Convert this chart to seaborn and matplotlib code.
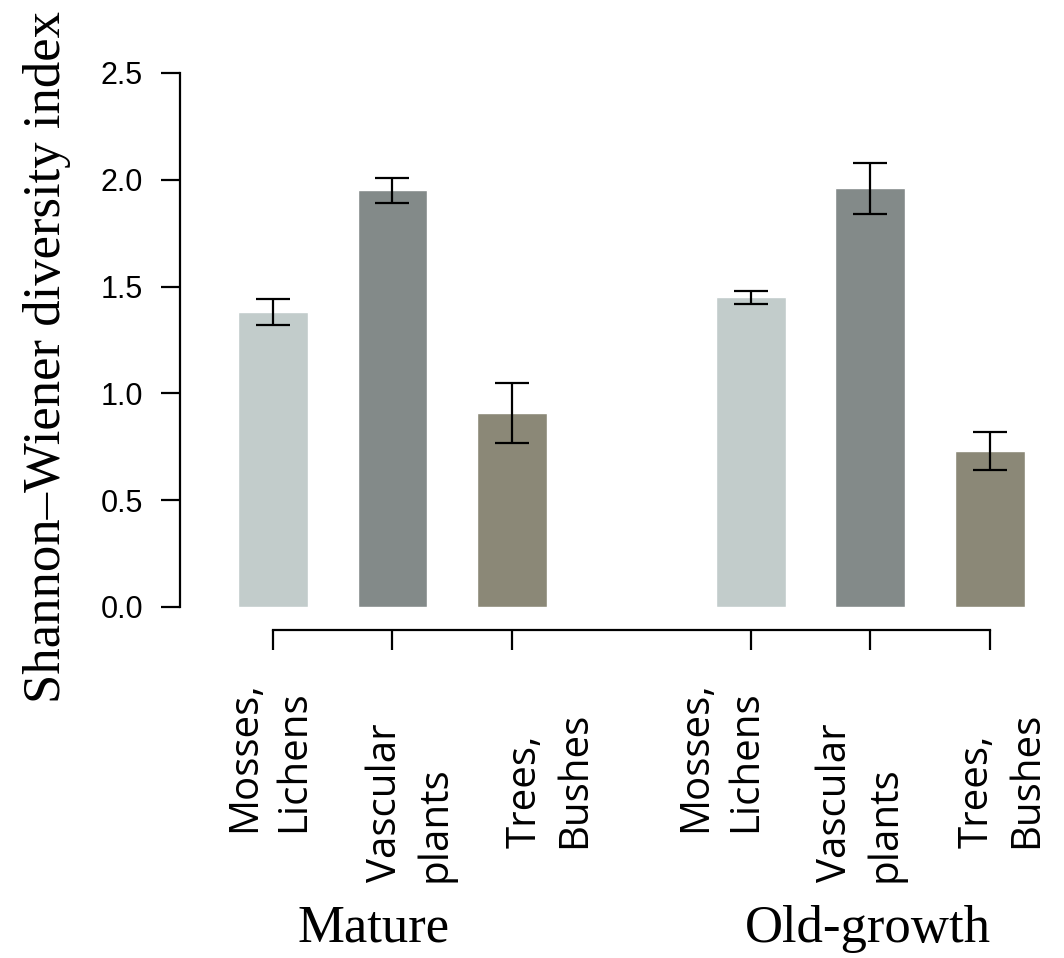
import numpy as np
import pandas as pd
import matplotlib
matplotlib.use("Agg")
import matplotlib.pyplot as plt
import matplotlib.transforms as mtransforms
import seaborn as sns

# Shannon-Wiener index per stand type and plant group
stands = ["Mature", "Mature", "Mature", "Old-growth", "Old-growth", "Old-growth"]
groups = ["Mosses,\nLichens", "Vascular\nplants", "Trees,\nBushes"] * 2
positions = [0, 1, 2, 4, 5, 6]
shannon = [1.38, 1.95, 0.91, 1.45, 1.96, 0.73]
errors = [0.06, 0.06, 0.14, 0.03, 0.12, 0.09]
yticks = [0.0, 0.5, 1.0, 1.5, 2.0, 2.5]
stand_labels = ["Mature", "Old-growth"]

palette = {"Mosses,\nLichens": "#c2cccb", "Vascular\nplants": "#838a89", "Trees,\nBushes": "#8b8877"}

df = pd.DataFrame({"stand": stands, "group": groups, "position": positions,
                   "shannon": shannon, "err": errors})

sns.set_style("ticks")
plt.rcParams["axes.linewidth"] = 1.6
plt.rcParams["text.color"] = "black"
plt.rcParams["xtick.color"] = "black"
plt.rcParams["ytick.color"] = "black"

fig = plt.figure(figsize=(10.64, 9.58), dpi=100)
ax = fig.add_axes([0.1692, 0.3664, 0.8308, 0.5574])

sns.barplot(data=df, x="position", y="shannon", hue="group", palette=palette,
            native_scale=True, dodge=False, width=0.585, saturation=1,
            errorbar=None, legend=False, ax=ax)
ax.errorbar(df["position"], df["shannon"], yerr=df["err"], fmt="none",
            ecolor="black", elinewidth=1.6, capsize=12, capthick=1.6)

ax.set_xlim(-0.778, 6.62)
ax.set_ylim(0, 2.5)
ax.set_yticks(yticks)
ax.set_yticklabels([f"{v:.1f}" for v in yticks], family="Liberation Sans", fontsize=22)
ax.set_xticks(positions)
ax.set_xticklabels([])
ax.set_xlabel("")
ax.set_ylabel("")
ax.tick_params(axis="y", length=13.7, width=1.6, pad=13, color="black", labelcolor="black")
ax.tick_params(axis="x", length=14.4, width=1.6, color="black")

for s in ["top", "right"]:
    ax.spines[s].set_visible(False)
ax.spines["left"].set_color("black")
ax.spines["bottom"].set_color("black")
ax.spines["bottom"].set_position(("outward", 16.5))
ax.spines["bottom"].set_bounds(0, 6)

# group tick labels, placed by hand like the original
trans = mtransforms.blended_transform_factory(ax.transData, fig.transFigure)
label_dx = [-0.03, 0.15, 0.32, -0.25, -0.08, 0.10]
label_bottom = [832, 882, 848, 832, 882, 848]
for p, g, dx, b in zip(positions, groups, label_dx, label_bottom):
    ax.text(p + dx, 1 - b / 958, g, transform=trans, rotation=90,
            ha="center", va="bottom", multialignment="left", color="black",
            family="Open Sans", fontsize=29, linespacing=1.3, clip_on=False)

for x, lab in zip([0.84, 4.98], stand_labels):
    ax.text(x, 1 - 942 / 958, lab, transform=trans, ha="center", va="baseline",
            color="black", family="Liberation Serif", fontsize=38, clip_on=False)

fig.text(47 / 1064, 1 - 357 / 958, "Shannon\u2013Wiener diversity index", rotation=90,
         ha="center", va="center", color="black", family="Liberation Serif", fontsize=38)

fig.savefig("out.png", dpi=100)
